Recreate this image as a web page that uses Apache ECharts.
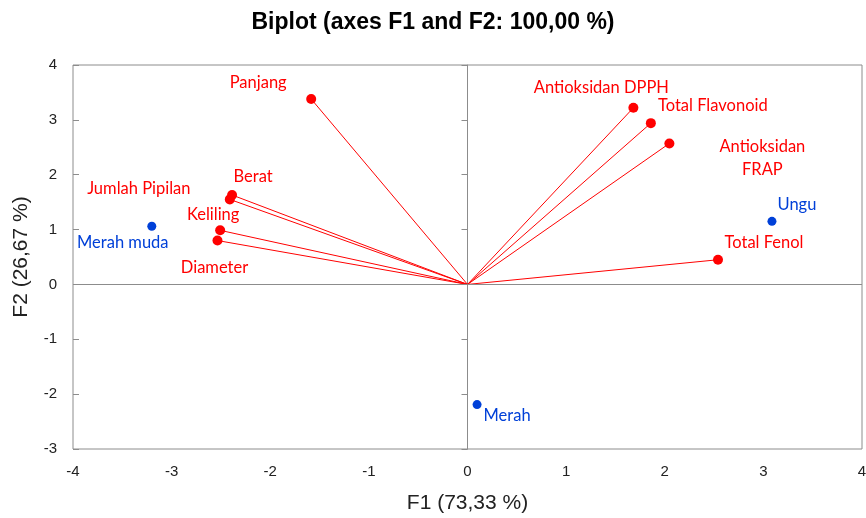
<!DOCTYPE html>
<html>
<head>
<meta charset="utf-8">
<script src="https://cdn.jsdelivr.net/npm/echarts@6/dist/echarts.min.js"></script>
<style>
  html, body { margin: 0; padding: 0; background: #fff; }
  #chart { width: 866px; height: 518px; }
</style>
</head>
<body>
<div id="chart"></div>
<script>
// variables (red vectors)
const varNames = ['Panjang', 'Berat', 'Jumlah Pipilan', 'Keliling', 'Diameter',
  'Antioksidan DPPH', 'Total Flavonoid', 'Antioksidan\nFRAP', 'Total Fenol'];
const varF1 = [-1.585, -2.387, -2.41, -2.508, -2.535, 1.682, 1.859, 2.047, 2.54];
const varF2 = [3.38, 1.63, 1.55, 0.986, 0.80, 3.22, 2.94, 2.57, 0.45];

// observations (blue points)
const obsNames = ['Merah muda', 'Ungu', 'Merah'];
const obsF1 = [-3.201, 3.087, 0.097];
const obsF2 = [1.06, 1.15, -2.19];

const xTicks = [-4, -3, -2, -1, 0, 1, 2, 3, 4];
const yTicks = [-3, -2, -1, 0, 1, 2, 3, 4];

/* label offsets (px from the dot centre) */
const labelOffset = {
  'Panjang': [-53, -16],
  'Berat': [21, -18],
  'Jumlah Pipilan': [-91, -11],
  'Keliling': [-7, -16],
  'Diameter': [-3, 27],
  'Antioksidan DPPH': [-32, -20],
  'Total Flavonoid': [62, -17],
  'Antioksidan\nFRAP': [93, 15],
  'Total Fenol': [46, -17],
  'Merah muda': [-29, 16],
  'Ungu': [25, -17],
  'Merah': [30, 11]
};

const RED = '#ff0000';
const BLUE = '#0040d8';
const GREY = '#8c8c8c';
const labelFont = 'Lato, "Open Sans", sans-serif';
const axisFont = 'Liberation Sans Narrow, Liberation Sans, sans-serif';

function pointData (names, xs, ys) {
  return names.map((n, i) => ({
    name: n,
    value: [xs[i], ys[i]],
    label: { offset: labelOffset[n] || [0, 0] }
  }));
}

const chart = echarts.init(document.getElementById('chart'), null, { renderer: 'canvas' });

const option = {
  animation: false,
  title: {
    text: 'Biplot (axes F1 and F2: 100,00 %)',
    left: 'center',
    top: 6,
    textStyle: { fontFamily: 'Liberation Sans, Arial, sans-serif', fontWeight: 'bold', fontSize: 23, color: '#000' }
  },
  grid: {
    left: 73, right: 4, top: 65, bottom: 69,
    outerBoundsMode: 'none',
    containLabel: false,
    show: true, borderColor: GREY, borderWidth: 1, backgroundColor: 'transparent'
  },
  xAxis: [{
    type: 'value', min: -4, max: 4, interval: 1,
    name: 'F1 (73,33 %)', nameLocation: 'middle', nameGap: 44,
    nameTextStyle: { fontFamily: axisFont, fontSize: 21, color: '#222' },
    axisLine: { show: false, onZero: false },
    axisTick: { show: false },
    splitLine: { show: false },
    axisLabel: {
      margin: 15, fontFamily: axisFont, fontSize: 15, color: '#222',
      formatter: v => (xTicks.indexOf(v) >= 0 ? String(v) : '')
    }
  }],
  yAxis: [{
    type: 'value', min: -3, max: 4, interval: 1,
    name: 'F2 (26,67 %)', nameLocation: 'middle', nameGap: 41, nameRotate: 90,
    nameTextStyle: { fontFamily: axisFont, fontSize: 21, color: '#222' },
    axisLine: { show: false, onZero: false },
    axisTick: { show: false },
    splitLine: { show: false },
    axisLabel: {
      margin: 16, fontFamily: axisFont, fontSize: 15, color: '#222',
      formatter: v => (yTicks.indexOf(v) >= 0 ? String(v) : '')
    }
  }, {
    type: 'value', min: -3, max: 4, interval: 1, position: 'left',
    axisLine: { show: true, onZero: true, lineStyle: { color: GREY, width: 1 } },
    axisTick: { show: true, length: 6, lineStyle: { color: GREY } },
    axisLabel: { show: false },
    splitLine: { show: false }
  }, {
    type: 'value', min: -3, max: 4, interval: 1, position: 'left',
    axisLine: { show: false, onZero: true },
    axisTick: { show: true, inside: true, length: 6, lineStyle: { color: GREY } },
    axisLabel: { show: false },
    splitLine: { show: false }
  }],
  series: [{
    type: 'lines',
    coordinateSystem: 'cartesian2d',
    silent: true,
    z: 3,
    lineStyle: { color: RED, width: 1, opacity: 1 },
    data: varF1.map((x, i) => ({ coords: [[0, 0], [x, varF2[i]]] })),
    markLine: {
      silent: true,
      symbol: 'none',
      label: { show: false },
      lineStyle: { color: GREY, type: 'solid', width: 1 },
      data: [{ yAxis: 0 }]
    }
  }, {
    type: 'scatter',
    z: 4,
    symbolSize: 10,
    itemStyle: { color: RED, opacity: 1 },
    label: {
      show: true, position: 'inside', align: 'center', verticalAlign: 'middle',
      formatter: p => p.name, color: RED, fontFamily: labelFont, fontSize: 16.5, lineHeight: 23
    },
    data: pointData(varNames, varF1, varF2)
  }, {
    type: 'scatter',
    z: 4,
    symbolSize: 9,
    itemStyle: { color: BLUE, opacity: 1 },
    label: {
      show: true, position: 'inside', align: 'center', verticalAlign: 'middle',
      formatter: p => p.name, color: BLUE, fontFamily: labelFont, fontSize: 16.5
    },
    data: pointData(obsNames, obsF1, obsF2)
  }]
};

chart.setOption(option);
</script>
</body>
</html>
